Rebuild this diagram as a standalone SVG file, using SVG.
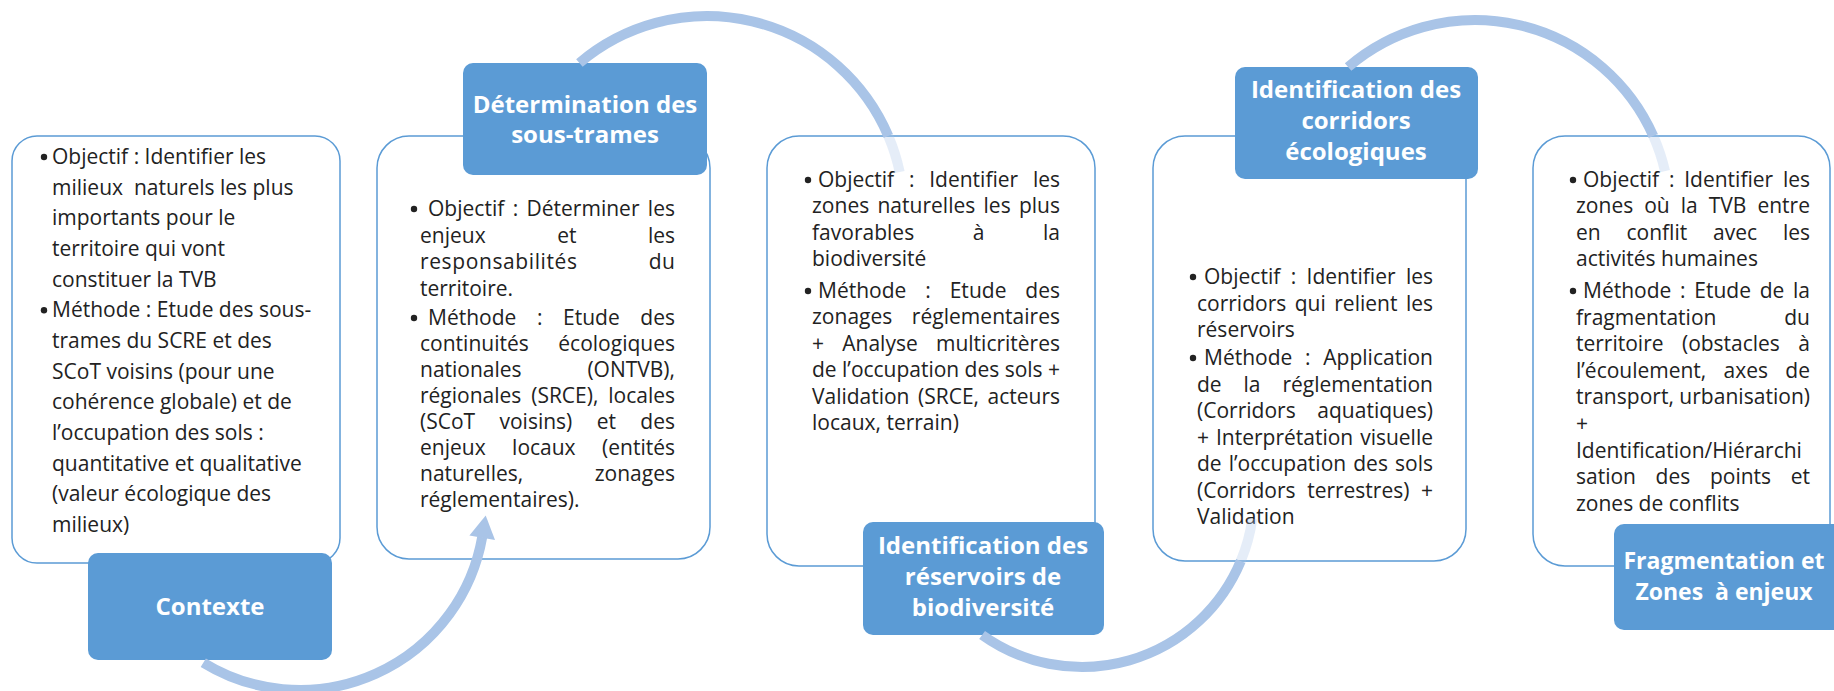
<svg xmlns="http://www.w3.org/2000/svg" width="1834" height="691" viewBox="0 0 1834 691">
<style>
.box{fill:#fff;stroke:#5B9BD5;stroke-width:1.5}
.lbl{fill:#5B9BD5}
.lt{font-family:"Open Sans","Liberation Sans",sans-serif;font-weight:bold;font-size:24px;fill:#fff;text-anchor:middle}
.t{font-family:"Open Sans","Liberation Sans",sans-serif;font-size:21px;fill:#222}
.bul{fill:#222}
.arc{fill:none;stroke:#A9C4E7;stroke-width:10}
.tail{fill:none;stroke:#A9C4E7;stroke-width:10;stroke-opacity:0.3}
.head{fill:#A9C4E7}
</style>
<rect width="1834" height="691" fill="#fff"/>

<g id="node-contexte">
<rect class="box" x="12" y="136" width="328" height="427" rx="25"/>
<circle class="bul" cx="44" cy="157" r="3.2"/>
<text class="t" x="52" y="164">Objectif : Identifier les</text>
<text class="t" x="52" y="194.7" xml:space="preserve">milieux  naturels les plus</text>
<text class="t" x="52" y="225.3">importants pour le</text>
<text class="t" x="52" y="256">territoire qui vont</text>
<text class="t" x="52" y="286.7">constituer la TVB</text>
<circle class="bul" cx="44" cy="310.3" r="3.2"/>
<text class="t" x="52" y="317.3">Méthode : Etude des sous-</text>
<text class="t" x="52" y="348">trames du SCRE et des</text>
<text class="t" x="52" y="378.7">SCoT voisins (pour une</text>
<text class="t" x="52" y="409.3">cohérence globale) et de</text>
<text class="t" x="52" y="440">l’occupation des sols :</text>
<text class="t" x="52" y="470.7">quantitative et qualitative</text>
<text class="t" x="52" y="501.3">(valeur écologique des</text>
<text class="t" x="52" y="532">milieux)</text>
<rect class="lbl" x="88" y="553" width="244" height="107" rx="10"/>
<text class="lt" x="210" y="615">Contexte</text>
</g>

<g id="node-sous-trames">
<rect class="box" x="377" y="136" width="333" height="423" rx="32"/>
<circle class="bul" cx="414" cy="209" r="3.2"/>
<text class="t" x="428" y="216" word-spacing="2.9" textLength="247" lengthAdjust="spacing">Objectif : Déterminer les</text>
<text class="t" x="420" y="242.5" word-spacing="66" textLength="255" lengthAdjust="spacing">enjeux et les</text>
<text class="t" x="420" y="269" word-spacing="65" textLength="255" lengthAdjust="spacing">responsabilités du</text>
<text class="t" x="420" y="295.5">territoire.</text>
<circle class="bul" cx="414" cy="318" r="3.2"/>
<text class="t" x="428" y="325" word-spacing="15.1" textLength="247" lengthAdjust="spacing">Méthode : Etude des</text>
<text class="t" x="420" y="351" word-spacing="24.1" textLength="255" lengthAdjust="spacing">continuités écologiques</text>
<text class="t" x="420" y="377" word-spacing="60.4" textLength="255" lengthAdjust="spacing">nationales (ONTVB),</text>
<text class="t" x="420" y="403" word-spacing="4.5" textLength="255" lengthAdjust="spacing">régionales (SRCE), locales</text>
<text class="t" x="420" y="429" word-spacing="19" textLength="255" lengthAdjust="spacing">(SCoT voisins) et des</text>
<text class="t" x="420" y="455" word-spacing="21" textLength="255" lengthAdjust="spacing">enjeux locaux (entités</text>
<text class="t" x="420" y="481" word-spacing="66.1" textLength="255" lengthAdjust="spacing">naturelles, zonages</text>
<text class="t" x="420" y="507">réglementaires).</text>
<rect class="lbl" x="463" y="63" width="244" height="112" rx="10"/>
<text class="lt" x="585" y="113">Détermination des</text>
<text class="lt" x="585" y="143">sous-trames</text>
</g>

<g id="node-reservoirs">
<rect class="box" x="767" y="136" width="328" height="430" rx="32"/>
<circle class="bul" cx="808" cy="180" r="3.2"/>
<text class="t" x="818" y="187" word-spacing="9.3" textLength="242" lengthAdjust="spacing">Objectif : Identifier les</text>
<text class="t" x="812" y="213" word-spacing="2.8" textLength="248" lengthAdjust="spacing">zones naturelles les plus</text>
<text class="t" x="812" y="240" word-spacing="53.1" textLength="248" lengthAdjust="spacing">favorables à la</text>
<text class="t" x="812" y="266">biodiversité</text>
<circle class="bul" cx="808" cy="291" r="3.2"/>
<text class="t" x="818" y="298" word-spacing="13.4" textLength="242" lengthAdjust="spacing">Méthode : Etude des</text>
<text class="t" x="812" y="324.4" word-spacing="14" textLength="248" lengthAdjust="spacing">zonages réglementaires</text>
<text class="t" x="812" y="350.8" word-spacing="12.8" textLength="248" lengthAdjust="spacing">+ Analyse multicritères</text>
<text class="t" x="812" y="377.2" textLength="248" lengthAdjust="spacing">de l’occupation des sols +</text>
<text class="t" x="812" y="403.6" word-spacing="3.2" textLength="248" lengthAdjust="spacing">Validation (SRCE, acteurs</text>
<text class="t" x="812" y="430">locaux, terrain)</text>
<rect class="lbl" x="863" y="522" width="241" height="113" rx="10"/>
<text class="lt" x="983" y="554">Identification des</text>
<text class="lt" x="983" y="585">réservoirs de</text>
<text class="lt" x="983" y="616">biodiversité</text>
</g>

<g id="node-corridors">
<rect class="box" x="1153" y="136" width="313" height="425" rx="32"/>
<circle class="bul" cx="1193" cy="277" r="3.2"/>
<text class="t" x="1204" y="284" word-spacing="4.9" textLength="229" lengthAdjust="spacing">Objectif : Identifier les</text>
<text class="t" x="1197" y="310.5" word-spacing="3" textLength="236" lengthAdjust="spacing">corridors qui relient les</text>
<text class="t" x="1197" y="337">réservoirs</text>
<circle class="bul" cx="1193" cy="358" r="3.2"/>
<text class="t" x="1204" y="365" word-spacing="7.2" textLength="229" lengthAdjust="spacing">Méthode : Application</text>
<text class="t" x="1197" y="391.5" word-spacing="16.4" textLength="236" lengthAdjust="spacing">de la réglementation</text>
<text class="t" x="1197" y="418" word-spacing="16.2" textLength="236" lengthAdjust="spacing">(Corridors aquatiques)</text>
<text class="t" x="1197" y="444.5" word-spacing="1.5" textLength="236" lengthAdjust="spacing">+ Interprétation visuelle</text>
<text class="t" x="1197" y="471" word-spacing="1.6" textLength="236" lengthAdjust="spacing">de l’occupation des sols</text>
<text class="t" x="1197" y="497.5" word-spacing="6.1" textLength="236" lengthAdjust="spacing">(Corridors terrestres) +</text>
<text class="t" x="1197" y="524">Validation</text>
<rect class="lbl" x="1235" y="67" width="243" height="112" rx="10"/>
<text class="lt" x="1356" y="98">Identification des</text>
<text class="lt" x="1356" y="129">corridors</text>
<text class="lt" x="1356" y="160">écologiques</text>
</g>

<g id="node-fragmentation">
<rect class="box" x="1533" y="136" width="297" height="430" rx="32"/>
<circle class="bul" cx="1573" cy="180" r="3.2"/>
<text class="t" x="1583" y="187" word-spacing="4.3" textLength="227" lengthAdjust="spacing">Objectif : Identifier les</text>
<text class="t" x="1576" y="213" word-spacing="5.5" textLength="234" lengthAdjust="spacing">zones où la TVB entre</text>
<text class="t" x="1576" y="240" word-spacing="20.4" textLength="234" lengthAdjust="spacing">en conflit avec les</text>
<text class="t" x="1576" y="266">activités humaines</text>
<circle class="bul" cx="1573" cy="291" r="3.2"/>
<text class="t" x="1583" y="298" word-spacing="3.2" textLength="227" lengthAdjust="spacing">Méthode : Etude de la</text>
<text class="t" x="1576" y="324.6" word-spacing="62.3" textLength="234" lengthAdjust="spacing">fragmentation du</text>
<text class="t" x="1576" y="351.2" word-spacing="13" textLength="234" lengthAdjust="spacing">territoire (obstacles à</text>
<text class="t" x="1576" y="377.8" word-spacing="11.9" textLength="234" lengthAdjust="spacing">l’écoulement, axes de</text>
<text class="t" x="1576" y="404.4" textLength="234" lengthAdjust="spacing">transport, urbanisation)</text>
<text class="t" x="1576" y="431">+</text>
<text class="t" x="1576" y="457.6">Identification/Hiérarchi</text>
<text class="t" x="1576" y="484.2" word-spacing="14.2" textLength="234" lengthAdjust="spacing">sation des points et</text>
<text class="t" x="1576" y="510.8">zones de conflits</text>
<rect class="lbl" x="1614" y="524" width="250" height="106" rx="10"/>
<text class="lt" x="1724" y="569" style="font-size:23px">Fragmentation et</text>
<text class="lt" x="1724" y="600" style="font-size:23px" xml:space="preserve">Zones  à enjeux</text>
</g>

<g id="connectors">
<path class="arc" d="M 203.3 662.7 A 185 185 0 0 0 482.2 537.1"/>
<polygon class="head" points="485.7,515.4 495,540 469.4,535.6"/>
<path class="arc" d="M 579.4 63 A 197 197 0 0 1 888.3 136"/>
<path class="tail" d="M 888.3 136 A 197 197 0 0 1 899.7 172"/>
<path class="arc" d="M 982.1 635 A 172 172 0 0 0 1240.8 561"/>
<path class="tail" d="M 1240.8 561 A 172 172 0 0 0 1252.3 518.9"/>
<path class="arc" d="M 1348.1 67 A 195 195 0 0 1 1653.3 136"/>
<path class="tail" d="M 1653.3 136 A 195 195 0 0 1 1665 171.1"/>
</g>
</svg>
